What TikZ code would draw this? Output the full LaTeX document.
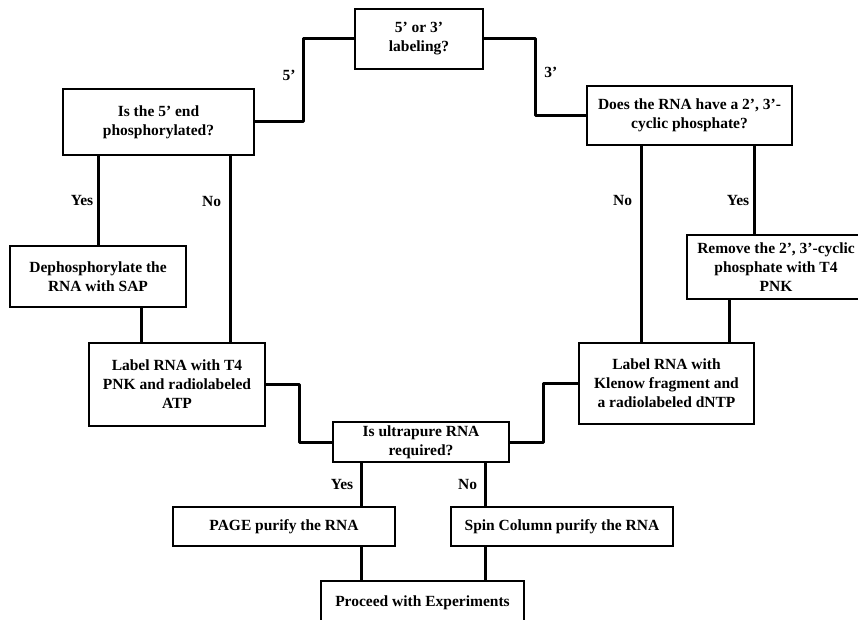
\documentclass[tikz,border=0pt]{standalone}
\usepackage{fontspec}
\setmainfont{Liberation Serif}
\usepackage{tikz}
\usetikzlibrary{positioning, calc}

\tikzset{
  box/.style={draw, line width=1.2pt, align=center, inner sep=2pt,
    font=\fontsize{15.5}{19}\selectfont\bfseries},
  link/.style={line width=3pt, line cap=round, line join=round},
  lbl/.style={font=\fontsize{15.5}{17}\selectfont\bfseries}
}

\begin{document}
\begin{tikzpicture}[x=1pt, y=-1pt]
  \clip (0,0) rectangle (858,620);
  % decision and step boxes
  \node[box, minimum width=128pt, minimum height=60pt] (ends) at (419,39) {5’ or 3’\\labeling?};
  \node[box, minimum width=191pt, minimum height=66pt] (phos) at (158.5,122) {Is the 5’ end\\phosphorylated?};
  \node[box, minimum width=205pt, minimum height=59pt] (cyc) at (689.5,115.5) {Does the RNA have a 2’, 3’-\\cyclic phosphate?};
  \node[box, minimum width=176pt, minimum height=61pt] (deph) at (98,276.5) {Dephosphorylate the\\RNA with SAP};
  \node[box, minimum width=178pt, minimum height=64pt] (remv) at (776,267) {Remove the 2’, 3’-cyclic\\phosphate with T4\\PNK};
  \node[box, minimum width=176pt, minimum height=83pt] (pnk) at (177,384.5) {Label RNA with T4\\PNK and radiolabeled\\ATP};
  \node[box, minimum width=175pt, minimum height=81pt] (klen) at (666.5,383.5) {Label RNA with\\Klenow fragment and\\a radiolabeled dNTP};
  \node[box, minimum width=176pt, minimum height=40pt] (pure) at (421,442) {Is ultrapure RNA\\required?};
  \node[box, minimum width=222pt, minimum height=39pt] (page) at (284,526.5) {PAGE purify the RNA};
  \node[box, minimum width=222pt, minimum height=39pt] (spin) at (562,526.5) {Spin Column purify the RNA};
  \node[box, minimum width=203pt, minimum height=44pt] (exp) at (422.5,603) {Proceed with Experiments};

  % x positions of the vertical links
  \coordinate (xa) at (98,0);
  \coordinate (xb) at (230,0);
  \coordinate (xc) at (141,0);
  \coordinate (xd) at (641,0);
  \coordinate (xe) at (754,0);
  \coordinate (xf) at (729,0);
  \coordinate (xg) at (361,0);
  \coordinate (xh) at (485,0);

  \draw[link] (ends.west) -- ++(-51,0) |- node[lbl, pos=0.22, left=3pt] {5’} (phos.east);
  \draw[link] (ends.east) -- ++(52,0) |- node[lbl, pos=0.22, right=4pt] {3’} (cyc.west);
  \draw[link] (phos.south -| xa) -- node[lbl, pos=0.5, left=0pt] {Yes} (deph.north -| xa);
  \draw[link] (phos.south -| xb) -- node[lbl, pos=0.245, left=4pt] {No} (pnk.north -| xb);
  \draw[link] (deph.south -| xc) -- (pnk.north -| xc);
  \draw[link] (cyc.south -| xd) -- node[lbl, pos=0.28, left=4pt] {No} (klen.north -| xd);
  \draw[link] (cyc.south -| xe) -- node[lbl, pos=0.62, left=0pt] {Yes} (remv.north -| xe);
  \draw[link] (remv.south -| xf) -- (klen.north -| xf);
  \draw[link] (pnk.east) -- ++(34,0) |- (pure.west);
  \draw[link] (klen.west) -- ++(-35,0) |- (pure.east);
  \draw[link] (pure.south -| xg) -- node[lbl, left=3pt] {Yes} (page.north -| xg);
  \draw[link] (pure.south -| xh) -- node[lbl, left=3pt] {No} (spin.north -| xh);
  \draw[link] (page.south -| xg) -- (exp.north -| xg);
  \draw[link] (spin.south -| xh) -- (exp.north -| xh);
\end{tikzpicture}
\end{document}
